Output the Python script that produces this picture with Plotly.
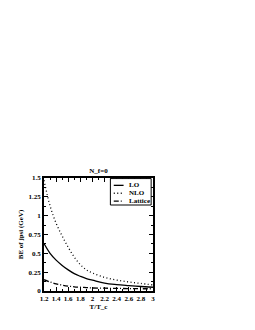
import plotly.graph_objects as go

T = [1.2, 1.3, 1.4, 1.5, 1.6, 1.7, 1.8, 1.9, 2.0, 2.2, 2.4, 2.6, 2.8, 3.0]
lo = [0.63, 0.50, 0.41, 0.34, 0.28, 0.23, 0.195, 0.165, 0.145, 0.105, 0.085, 0.072, 0.06, 0.05]
nlo = [1.47, 1.13, 0.90, 0.73, 0.58, 0.45, 0.35, 0.28, 0.24, 0.18, 0.145, 0.12, 0.10, 0.08]
lattice = [0.15, 0.12, 0.095, 0.078, 0.065, 0.056, 0.05, 0.045, 0.04, 0.037, 0.035, 0.032, 0.03, 0.03]
series_names = ["LO", "NLO", "Lattice"]
dashes = ["solid", "1px,2.5px", "5px,2px,1px,2px"]

font = dict(family="Liberation Serif", size=7, color="black", weight="bold")

fig = go.Figure()
for name, ys, dash in zip(series_names, [lo, nlo, lattice], dashes):
    fig.add_trace(go.Scatter(x=T, y=ys, mode="lines", name=name, showlegend=False,
                             line=dict(color="black", width=1.3, dash=dash, shape="spline")))

axis_common = dict(showgrid=False, zeroline=False, showline=True, linecolor="black",
                   linewidth=1.5, mirror="ticks", ticks="inside", ticklen=4, tickwidth=1,
                   tickcolor="black", tickfont=font)

fig.update_xaxes(range=[1.2, 3.0], dtick=0.2, tick0=1.2,
                 minor=dict(dtick=0.1, ticks="inside", ticklen=2, tickcolor="black"),
                 title=dict(text="T/T_c", font=font, standoff=1), **axis_common)
fig.update_yaxes(range=[0, 1.5], tickvals=[0, 0.25, 0.5, 0.75, 1, 1.25, 1.5],
                 ticktext=["0", "0.25", "0.5", "0.75", "1", "1.25", "1.5"],
                 minor=dict(dtick=0.125, ticks="inside", ticklen=2, tickcolor="black"),
                 title=dict(text="BE of jpsi (GeV)", font=font, standoff=4), **axis_common)

# manual compact legend (paper coordinates)
fig.add_shape(type="rect", xref="paper", yref="paper", x0=0.609, x1=0.983, y0=0.761, y1=0.995,
              line=dict(color="black", width=1), fillcolor="white", layer="above")
rows = [0.935, 0.865, 0.795]
for name, dash, yy in zip(series_names, dashes, rows):
    fig.add_shape(type="line", xref="paper", yref="paper", x0=0.64, x1=0.73, y0=yy, y1=yy,
                  line=dict(color="black", width=1.3, dash=dash), layer="above")
    fig.add_annotation(xref="paper", yref="paper", x=0.76, y=yy, text=name, showarrow=False,
                       xanchor="left", yanchor="middle", font=font)

fig.update_layout(
    width=247, height=322,
    margin=dict(l=30, r=102, t=170, b=39),
    paper_bgcolor="white", plot_bgcolor="white",
    font=font,
    title=dict(text="N_f=0", x=0.5, xanchor="center", xref="paper",
               y=1, yref="paper", yanchor="bottom", pad=dict(b=5), font=font),
    showlegend=False,
)

fig.write_html("out.html")
